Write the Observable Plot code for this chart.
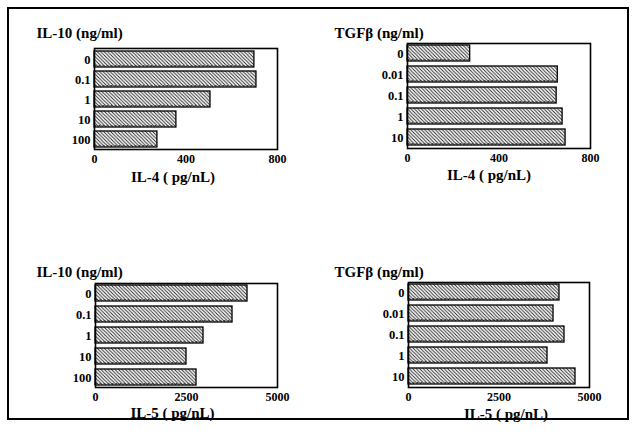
<!DOCTYPE html>
<html>
<head>
<meta charset="utf-8">
<script src="https://cdn.jsdelivr.net/npm/d3@7"></script>
<script src="https://cdn.jsdelivr.net/npm/@observablehq/plot@0.6"></script>
<style>
  html, body { margin: 0; padding: 0; background: #fff; }
  #root { position: relative; width: 632px; height: 438px; background: #fff; overflow: hidden; }
  #border { position: absolute; left: 7px; top: 7px; width: 622px; height: 413px; box-sizing: border-box; border: 2px solid #000; }
  .panel { position: absolute; }
  .panel svg { background: transparent !important; }
</style>
</head>
<body>
<svg width="0" height="0" style="position:absolute">
  <defs>
    <pattern id="hatch" patternUnits="userSpaceOnUse" width="3.5" height="3.5">
      <rect width="3.5" height="3.5" fill="#fff"></rect>
      <path d="M0,0 L3.5,3.5 M-1,2.5 L1,4.5 M2.5,-1 L4.5,1" stroke="#222" stroke-width="0.9"></path>
    </pattern>
  </defs>
</svg>
<div id="root"><div id="border"></div></div>
<script>
// Data
const il10Doses = ["0", "0.1", "1", "10", "100"];
const tgfDoses = ["0", "0.01", "0.1", "1", "10"];
const il4WithIL10 = [699, 708, 507, 358, 275];
const il4WithTGF = [274, 657, 652, 678, 691];
const il5WithIL10 = [4176, 3764, 2967, 2500, 2775];
const il5WithTGF = [4171, 4006, 4309, 3840, 4613];
const il4Ticks = [0, 400, 800];
const il5Ticks = [0, 2500, 5000];
const titleIL10 = "IL-10 (ng/ml)";
const titleTGF = "TGFβ (ng/ml)";
const labelIL4 = "IL-4 ( pg/nL)";
const labelIL5 = "IL-5 ( pg/nL)";

const root = document.getElementById("root");

function panel(o) {
  const data = o.doses.map((d, i) => ({dose: d, value: o.values[i]}));
  const chart = Plot.plot({
    width: o.w, height: o.h,
    marginLeft: o.ml, marginRight: o.mr, marginTop: o.mt, marginBottom: o.mb,
    style: {fontFamily: "'Liberation Serif', 'DejaVu Serif', serif", fontWeight: "bold", fontSize: "12px", color: "#000", background: "transparent"},
    x: {domain: [0, o.xMax]},
    y: {domain: o.doses, paddingInner: 0.22, paddingOuter: 0.04},
    marks: [
      Plot.barX(data, {x: "value", y: "dose", fill: "url(#hatch)", stroke: "#000", strokeWidth: 1.3}),
      Plot.link(data, {x1: 0, x2: "value", y1: "dose", y2: "dose", dy: 6, stroke: "#444", strokeDasharray: "2,2", strokeWidth: 1.2}),
      Plot.frame({stroke: "#000", strokeWidth: 1.6}),
      Plot.axisX({ticks: o.ticks, tickSize: 0, tickPadding: 5, tickFormat: d3.format("d"), label: null, fontWeight: "bold", fontSize: 12}),
      Plot.axisY({tickSize: 0, tickPadding: 4, label: null, fontWeight: "bold", fontSize: 12.5}),
      Plot.text([o.xLabel], {frameAnchor: "bottom", lineAnchor: "middle", text: d => d, dx: o.ldx, dy: o.ldy, fontSize: 15, fontWeight: "bold"}),
      Plot.text([o.title], {frameAnchor: "top-left", lineAnchor: "middle", text: d => d, textAnchor: "start", dx: o.tdx, dy: o.tdy, fontSize: 15, fontWeight: "bold"})
    ]
  });
  const div = document.createElement("div");
  div.className = "panel";
  div.style.left = o.left + "px";
  div.style.top = o.top + "px";
  div.appendChild(chart);
  root.appendChild(div);
}

panel({doses: il10Doses, values: il4WithIL10, xMax: 800, ticks: il4Ticks, title: titleIL10, xLabel: labelIL4,
  left: 0, top: 0, w: 316, h: 200, ml: 94, mr: 39, mt: 48, mb: 51, ldx: -13, ldy: 28, tdx: -58, tdy: -15});
panel({doses: tgfDoses, values: il4WithTGF, xMax: 800, ticks: il4Ticks, title: titleTGF, xLabel: labelIL4,
  left: 316, top: 0, w: 316, h: 200, ml: 91, mr: 42, mt: 43, mb: 52, ldx: -10, ldy: 27, tdx: -73, tdy: -10});
panel({doses: il10Doses, values: il5WithIL10, xMax: 5000, ticks: il5Ticks, title: titleIL10, xLabel: labelIL5,
  left: 0, top: 230, w: 316, h: 208, ml: 95, mr: 39, mt: 53, mb: 51, ldx: -14, ldy: 26, tdx: -59, tdy: -11});
panel({doses: tgfDoses, values: il5WithTGF, xMax: 5000, ticks: il5Ticks, title: titleTGF, xLabel: labelIL5,
  left: 316, top: 230, w: 316, h: 208, ml: 92, mr: 43, mt: 52, mb: 51, ldx: 7, ldy: 27, tdx: -74, tdy: -10});
</script>
</body>
</html>
